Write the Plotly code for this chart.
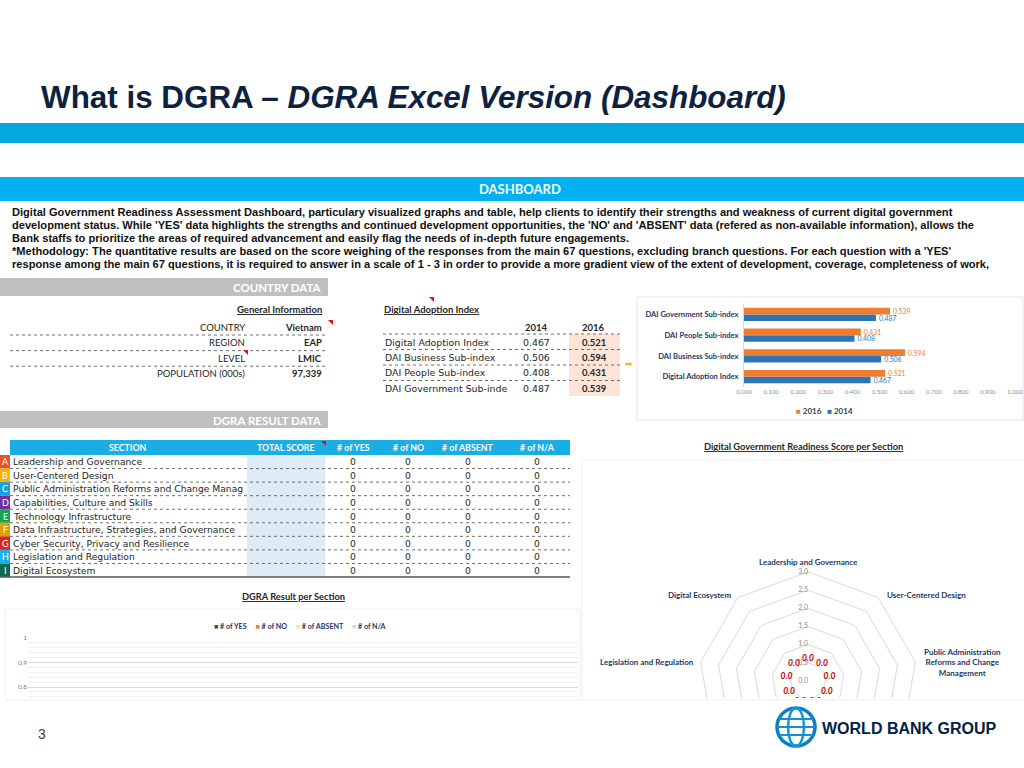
import textwrap
import numpy as np
import plotly.graph_objects as go

W, H = 1024, 768

# ---------------- data ----------------
title_main = "What is DGRA – "
title_italic = "DGRA Excel Version (Dashboard)"

intro_lines = [
    "Digital Government Readiness Assessment Dashboard, particulary visualized graphs and table, help clients to identify their strengths and weakness of current digital government",
    "development status. While 'YES' data highlights the strengths and continued development opportunities, the 'NO' and 'ABSENT' data (refered as non-available information), allows the",
    "Bank staffs to prioritize the areas of required advancement and easily flag the needs of in-depth future engagements.",
    "*Methodology: The quantitative results are based on the score weighing of the responses from the main 67 questions, excluding branch questions. For each question with a 'YES'",
    "response among the main 67 questions, it is required to answer in a scale of 1 - 3 in order to provide a more gradient view of the extent of development, coverage, completeness of work,",
]

country_fields = ["COUNTRY", "REGION", "LEVEL", "POPULATION (000s)"]
country_values = ["Vietnam", "EAP", "LMIC", "97,339"]

dai_labels = ["Digital Adoption Index", "DAI Business Sub-index", "DAI People Sub-index", "DAI Government Sub-index"]
dai_years = ["2014", "2016"]
dai_2014 = [0.467, 0.506, 0.408, 0.487]
dai_2016 = [0.521, 0.594, 0.431, 0.539]

section_letters = ["A", "B", "C", "D", "E", "F", "G", "H", "I"]
section_names = [
    "Leadership and Governance",
    "User-Centered Design",
    "Public Administration Reforms and Change Management",
    "Capabilities, Culture and Skills",
    "Technology Infrastructure",
    "Data Infrastructure, Strategies, and Governance",
    "Cyber Security, Privacy and Resilience",
    "Legislation and Regulation",
    "Digital Ecosystem",
]
section_colors = ["#e8542a", "#f7b500", "#1a9fd8", "#7030a0", "#12a454",
                  "#e0a000", "#d9261c", "#1cb0e8", "#0b6b4c"]
table_headers = ["SECTION", "TOTAL SCORE", "# of YES", "# of NO", "# of ABSENT", "# of N/A"]
total_score = ["", "", "", "", "", "", "", "", ""]
n_yes = [0, 0, 0, 0, 0, 0, 0, 0, 0]
n_no = [0, 0, 0, 0, 0, 0, 0, 0, 0]
n_absent = [0, 0, 0, 0, 0, 0, 0, 0, 0]
n_na = [0, 0, 0, 0, 0, 0, 0, 0, 0]

radar_scores = [0.0, 0.0, 0.0, 0.0, 0.0, 0.0, 0.0, 0.0, 0.0]
radar_ticks = [0.0, 0.5, 1.0, 1.5, 2.0, 2.5, 3.0]

result_series = ["# of YES", "# of NO", "# of ABSENT", "# of N/A"]
result_colors = ["#006b4f", "#ed7d31", "#ffe699", "#d9d9d9"]
result_ticks = [0.8, 0.9, 1.0]
result_ticktext = ["0.8", "0.9", "1"]

dai_colors = {"2014": "#2e75b6", "2016": "#ed7d31"}

# ---------------- helpers ----------------
NAVY = "#0d2240"
TXT = "#262626"
shapes = []
annotations = []


def px(x):
    return x / W


def py(y):
    return 1 - y / H


def rect(x0, y0, x1, y1, fill=None, line=None, lw=1, layer="below"):
    shapes.append(dict(type="rect", xref="paper", yref="paper",
                       x0=px(x0), x1=px(x1), y0=py(y1), y1=py(y0),
                       fillcolor=fill if fill else "rgba(0,0,0,0)",
                       line=dict(color=line if line else "rgba(0,0,0,0)", width=lw if line else 0),
                       layer=layer))


def hline(x0, x1, y, color="#6f6f6f", dash="dot", width=1):
    shapes.append(dict(type="line", xref="paper", yref="paper",
                       x0=px(x0), x1=px(x1), y0=py(y), y1=py(y),
                       line=dict(color=color, dash=dash, width=width), layer="above"))


def tri(x, y, s=5, color="#e01010"):
    path = f"M {px(x - s)},{py(y)} L {px(x)},{py(y)} L {px(x)},{py(y + s)} Z"
    shapes.append(dict(type="path", xref="paper", yref="paper", path=path,
                       fillcolor=color, line=dict(width=0), layer="above"))


def text(x, y, t, size=10, color=TXT, family="Lato", xanchor="left", bold=False, align="left"):
    if bold:
        t = f"<b>{t}</b>"
    annotations.append(dict(xref="paper", yref="paper", x=px(x), y=py(y), text=t,
                            showarrow=False, xanchor=xanchor, yanchor="middle", align=align,
                            borderpad=0, font=dict(size=size, color=color, family=family)))


# ---------------- header ----------------
text(40, 97, f"<b>{title_main}<i>{title_italic}</i></b>", size=31.4, color=NAVY,
     family="Liberation Sans")
rect(0, 123, W, 143, fill="#02a8df")

rect(0, 177, W, 201, fill="#00b0f0")
text(520, 189, "DASHBOARD", size=13, color="white", bold=True, xanchor="center")
for i, line in enumerate(intro_lines):
    text(11, 212 + 13 * i, line, size=11.1, color="#111111", family="Liberation Sans", bold=True)

# ---------------- country data ----------------
rect(0, 278, 328, 296, fill="#bfbfbf")
text(323, 287, "COUNTRY DATA", size=11.5, color="white", bold=True, xanchor="right")
text(323, 309, "<u>General Information</u>", size=9.5, color=TXT, bold=True, xanchor="right")
for i, (f, v) in enumerate(zip(country_fields, country_values)):
    yy = 327 + 15.6 * i
    text(246, yy, f, size=9.5, color=TXT, xanchor="right")
    text(323, yy, v, size=9.5, color=TXT, xanchor="right", bold=True)
    if i < len(country_fields) - 1:
        hline(10, 325, yy + 8)
tri(333, 320)
tri(248, 350)

# ---------------- digital adoption table ----------------
text(383, 309, "<u>Digital Adoption Index</u>", size=9.5, color=TXT, bold=True)
tri(434, 297)
rect(569, 334, 620, 396, fill="#fce4d6")
text(536, 327, dai_years[0], size=9.5, color=TXT, bold=True, xanchor="center")
text(593, 327, dai_years[1], size=9.5, color=TXT, bold=True, xanchor="center")
tbl_labels = [lbl if len(lbl) <= 23 else lbl[:23] for lbl in dai_labels]
for i, lbl in enumerate(tbl_labels):
    yy = 342 + 15.5 * i
    hline(383, 620, yy - 8)
    text(384, yy, lbl, size=9.4, color=TXT, family="DejaVu Sans")
    text(536, yy, f"{dai_2014[i]:.3f}", size=9.4, color=TXT, family="DejaVu Sans", xanchor="center")
    text(594, yy, f"{dai_2016[i]:.3f}", size=9.5, color=TXT, xanchor="center", bold=True)
text(629, 364, "➡", size=9, color="#f5b324", family="DejaVu Sans", xanchor="center")

# DAI chart frame and legend
rect(637, 297, 1023, 420, line="#e4e4e4")
leg = "   ".join(f"<span style='color:{dai_colors[y]}'>■</span> {y}" for y in reversed(dai_years))
text(824, 411, leg, size=8, color="#404040", bold=True, xanchor="center")

# ---------------- DGRA result data table ----------------
rect(0, 411, 328, 428, fill="#bfbfbf")
text(323, 420, "DGRA RESULT DATA", size=11.5, color="white", bold=True, xanchor="right")
rect(10, 440, 570, 455, fill="#1aaee5")
rect(247, 455, 325, 577, fill="#ddebf7")
hdr_x = [128, 286, 353, 408, 468, 537]
for hx, h in zip(hdr_x, table_headers):
    text(hx, 447.5, h, size=8.8, color="white", bold=True, xanchor="center")
tri(326, 441)
row_h = (577 - 455) / len(section_names)
for i, name in enumerate(section_names):
    yc = 455 + row_h * (i + 0.5)
    rect(0, 455 + row_h * i, 10, 455 + row_h * (i + 1), fill=section_colors[i])
    text(5, yc, section_letters[i], size=9, color="white", xanchor="center")
    shown = name if len(name) <= 47 else name[:46]
    text(12, yc, shown, size=9.2, color=TXT, family="DejaVu Sans")
    text(286, yc, total_score[i], size=9, color=TXT, xanchor="center")
    for cx, col in zip(hdr_x[2:], [n_yes, n_no, n_absent, n_na]):
        text(cx, yc, str(col[i]), size=9.2, color=TXT, family="DejaVu Sans", xanchor="center")
    if i < len(section_names) - 1:
        hline(10, 570, 455 + row_h * (i + 1))
hline(0, 570, 577, color="#595959", dash="solid", width=1.5)

# ---------------- chart titles / frames ----------------
text(803, 446, "<u>Digital Government Readiness Score per Section</u>", size=9.3, color=TXT,
     bold=True, xanchor="center")
rect(582, 460, 1030, 700, line="#efefef")
text(293, 596, "<u>DGRA Result per Section</u>", size=9.3, color=TXT, bold=True, xanchor="center")
rect(5, 609, 580, 700, line="#efefef")
leg2 = "     ".join(f"<span style='color:{c}'>■</span> {s}" for s, c in zip(result_series, result_colors))
text(300, 626, leg2, size=7.2, color="#1f3864", bold=True, xanchor="center")

fig = go.Figure()

# ---------------- DAI bar chart ----------------
fig.add_trace(go.Bar(y=dai_labels, x=dai_2014, orientation="h", name=dai_years[0],
                     marker_color=dai_colors["2014"], texttemplate="%{x:.3f}", textposition="outside",
                     textfont=dict(size=6.8, color=dai_colors["2014"], family="Lato"),
                     constraintext="none", cliponaxis=False, xaxis="x", yaxis="y"))
fig.add_trace(go.Bar(y=dai_labels, x=dai_2016, orientation="h", name=dai_years[1],
                     marker_color=dai_colors["2016"], texttemplate="%{x:.3f}", textposition="outside",
                     textfont=dict(size=6.8, color=dai_colors["2016"], family="Lato"),
                     constraintext="none", cliponaxis=False, xaxis="x", yaxis="y"))

# ---------------- DGRA result per section (columns) ----------------
for s, c, vals in zip(result_series, result_colors, [n_yes, n_no, n_absent, n_na]):
    fig.add_trace(go.Bar(x=section_names, y=vals, name=s, marker_color=c,
                         xaxis="x2", yaxis="y2"))

# ---------------- radar chart (drawn on its own axes) ----------------
K = 109 / 3.0  # pixels per radar unit
CX, CY = 808, 681
n = len(section_names)
theta = np.deg2rad(90 - 360 / n * np.arange(n))
ct, st = np.cos(theta), np.sin(theta)

gx, gy = [], []
for t in radar_ticks[1:]:
    gx += list(t * ct) + [t * ct[0], None]
    gy += list(t * st) + [t * st[0], None]
fig.add_trace(go.Scatter(x=gx, y=gy, mode="lines", line=dict(color="#d9d9d9", width=1),
                         hoverinfo="skip", xaxis="x3", yaxis="y3"))
fig.add_trace(go.Scatter(x=[0] * len(radar_ticks), y=radar_ticks, mode="text",
                         text=[f"{t:.1f}" for t in radar_ticks], textposition="middle left",
                         textfont=dict(size=7, color="#8c8c8c", family="Lato"),
                         xaxis="x3", yaxis="y3"))
r = np.array(radar_scores)
fig.add_trace(go.Scatter(x=list(r * ct) + [r[0] * ct[0]], y=list(r * st) + [r[0] * st[0]],
                         mode="lines", line=dict(color="#ed7d31", width=1.5),
                         xaxis="x3", yaxis="y3"))
lab_r = r + 0.6
fig.add_trace(go.Scatter(x=lab_r * ct, y=lab_r * st, mode="text",
                         text=[f"<b><i>{v:.1f}</i></b>" for v in radar_scores],
                         textposition="middle center",
                         textfont=dict(size=8.5, color="#c00000", family="Lato"),
                         xaxis="x3", yaxis="y3"))

rx_range = [(582 - CX) / K, (1024 - CX) / K]
ry_range = [(CY - 698) / K, (CY - 460) / K]
top_r = radar_ticks[-1]
for i, name in enumerate(section_names):
    vx, vy = top_r * ct[i], top_r * st[i]
    if vy < ry_range[0] + 0.3:
        continue
    lbl = "<br>".join(textwrap.wrap(name, 26))
    if abs(ct[i]) < 0.2:
        xa, xs, ya, ys = "center", 0, "bottom", 3
    elif ct[i] > 0:
        xa, xs, ya, ys = "left", 7, "middle", 3 if st[i] > 0.5 else 0
    else:
        xa, xs, ya, ys = "right", -5, "middle", 3 if st[i] > 0.5 else 0
    annotations.append(dict(xref="x3", yref="y3", x=vx, y=vy, text=f"<b>{lbl}</b>",
                            showarrow=False, xanchor=xa, yanchor=ya, xshift=xs, yshift=ys,
                            align="center",
                            font=dict(size=8, color="#1f3864", family="Lato")))

# ---------------- footer ----------------
text(42, 734, "3", size=14, color="#404040", family="Liberation Sans", xanchor="center")
gcx, gcy, gr = 796, 727, 19
shapes.append(dict(type="circle", xref="paper", yref="paper",
                   x0=px(gcx - gr), x1=px(gcx + gr), y0=py(gcy + gr), y1=py(gcy - gr),
                   line=dict(color="#0a7fc4", width=3.5), layer="above"))
shapes.append(dict(type="circle", xref="paper", yref="paper",
                   x0=px(gcx - 8), x1=px(gcx + 8), y0=py(gcy + gr), y1=py(gcy - gr),
                   line=dict(color="#1596d6", width=2.5), layer="above"))
for dy in (-8, 0, 8):
    half = np.sqrt(gr ** 2 - dy ** 2)
    shapes.append(dict(type="line", xref="paper", yref="paper",
                       x0=px(gcx - half), x1=px(gcx + half), y0=py(gcy + dy), y1=py(gcy + dy),
                       line=dict(color="#1a8fd0", width=2.2), layer="above"))
text(821, 728, "WORLD BANK GROUP", size=16, color="#002244", family="Liberation Sans", bold=True)

# ---------------- layout ----------------
fig.update_layout(
    template="none",
    width=W, height=H, margin=dict(l=0, r=0, t=0, b=0, pad=0, autoexpand=False),
    paper_bgcolor="white", plot_bgcolor="rgba(0,0,0,0)",
    barmode="group", bargap=0.36, bargroupgap=0,
    font=dict(family="Lato", color=TXT),
    showlegend=False,
    shapes=shapes, annotations=annotations,
    xaxis=dict(domain=[px(744), px(1015)], range=[0, 1], dtick=0.1, tickformat=".3f",
               showgrid=False, zeroline=False, showline=False, ticks="", automargin=False,
               tickfont=dict(size=6, color="#8c8c8c", family="Lato"), anchor="y", fixedrange=True),
    yaxis=dict(domain=[py(387), py(304)], type="category", showgrid=False, zeroline=False,
               showline=True, linecolor="#d9d9d9", ticks="", ticklabelstandoff=3, automargin=False,
               tickfont=dict(size=7.6, color="#1f3864", family="Lato", weight="bold"),
               anchor="x", fixedrange=True),
    xaxis2=dict(domain=[px(28), px(578)], showticklabels=False, showgrid=False, zeroline=False,
                showline=False, ticks="", anchor="y2", fixedrange=True, automargin=False),
    yaxis2=dict(domain=[py(700), py(638)], range=[0.747, 1.0], tickvals=result_ticks,
                ticktext=result_ticktext, showgrid=True, gridcolor="#d9d9d9", gridwidth=1,
                zeroline=False, showline=False, ticks="", automargin=False,
                minor=dict(dtick=0.02, showgrid=True, gridcolor="#f0f0f0", gridwidth=1),
                tickfont=dict(size=6.5, color="#808080", family="Lato"), anchor="x2", fixedrange=True),
    xaxis3=dict(domain=[px(582), 1.0], range=rx_range, visible=False, anchor="y3",
                fixedrange=True, automargin=False),
    yaxis3=dict(domain=[py(698), py(460)], range=ry_range, visible=False, anchor="x3",
                fixedrange=True, automargin=False),
)

fig.write_html("out.html", config={"displayModeBar": False},
               post_script="document.body.style.margin='0px';document.body.style.overflow='hidden';")
